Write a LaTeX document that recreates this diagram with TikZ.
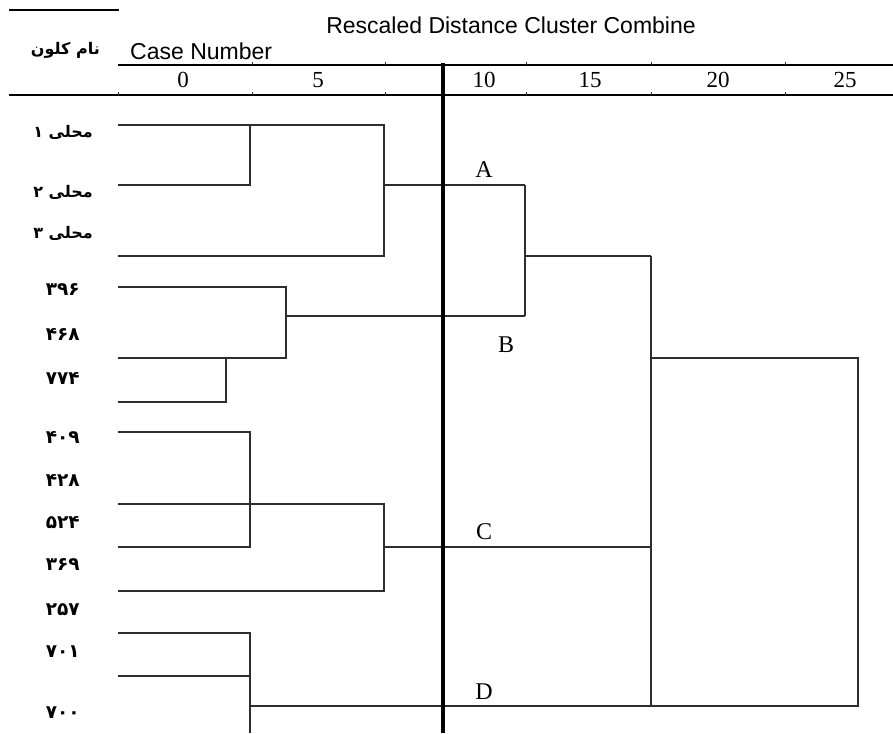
\documentclass[tikz,border=0pt]{standalone}
\usepackage{fontspec}
\setmainfont{Liberation Serif}
\newfontfamily\headfont{Liberation Sans}
\newfontfamily\arabicfont[Script=Arabic]{DejaVu Sans}
\TeXXeTstate=1
\begin{document}
\begin{tikzpicture}[x=1pt,y=-1pt,
  branch/.style={draw=black!82,line width=1.4pt},
  rulebar/.style={draw=black,line width=1.8pt},
  cutline/.style={draw=black,line width=4pt},
  tickmark/.style={draw=black!80,line width=0.9pt},
  rowlabel/.style={anchor=east,inner sep=0pt,font=\arabicfont\bfseries\fontsize{16}{16}\selectfont},
  numlabel/.style={anchor=east,inner sep=0pt,font=\arabicfont\bfseries\fontsize{18.5}{18.5}\selectfont},
  scalenum/.style={inner sep=0pt,font=\fontsize{23}{23}\selectfont},
  grouplabel/.style={inner sep=0pt,font=\fontsize{24}{24}\selectfont},
  headtext/.style={inner sep=0pt,font=\headfont\fontsize{23}{23}\selectfont}]
\useasboundingbox (0,0) rectangle (893,733);

% header rules and titles
\draw[rulebar] (9,10) -- (119,10);
\draw[rulebar] (118,65) -- (893,65);
\draw[rulebar] (9,95) -- (893,95);
\foreach \tx in {252,385,526,651,785} \draw[tickmark] (\tx,65) -- (\tx,62);
\foreach \tx in {118,252,385,526,651,785} \draw[tickmark] (\tx,95) -- (\tx,92);
\node[headtext] (title) at (511,25) {Rescaled Distance Cluster Combine};
\node[headtext,anchor=west] (casenum) at (130,51) {Case Number};
\node[rowlabel] (clone) at (100,50) {\beginR نام کلون\endR};

% distance scale
\node[scalenum] (s0) at (183,80) {0};
\node[scalenum] (s5) at (318,80) {5};
\node[scalenum] (s10) at (484,80) {10};
\node[scalenum] (s15) at (590,80) {15};
\node[scalenum] (s20) at (718,80) {20};
\node[scalenum] (s25) at (845,80) {25};

% case labels
\node[rowlabel] (r1) at (93,132) {\beginR محلی ۱\endR};
\node[rowlabel] (r2) at (93,192) {\beginR محلی ۲\endR};
\node[rowlabel] (r3) at (93,233) {\beginR محلی ۳\endR};
\node[numlabel] (r4) at (80,290) {۳۹۶};
\node[numlabel] (r5) at (80,334) {۴۶۸};
\node[numlabel] (r6) at (80,378) {۷۷۴};
\node[numlabel] (r7) at (80,437) {۴۰۹};
\node[numlabel] (r8) at (80,480) {۴۲۸};
\node[numlabel] (r9) at (80,523) {۵۲۴};
\node[numlabel] (r10) at (80,565) {۳۶۹};
\node[numlabel] (r11) at (80,610) {۲۵۷};
\node[numlabel] (r12) at (80,652) {۷۰۱};
\node[numlabel] (r13) at (80,713) {۷۰۰};

% leaf ends
\coordinate (l1) at (118,125);
\coordinate (l2) at (118,185);
\coordinate (l3) at (118,256);
\coordinate (l4) at (118,287);
\coordinate (l5) at (118,358);
\coordinate (l6) at (118,402);
\coordinate (l7) at (118,432);
\coordinate (l8) at (118,504);
\coordinate (l9) at (118,547);
\coordinate (l10) at (118,591);
\coordinate (l11) at (118,633);
\coordinate (l12) at (118,676);

% merge points
\coordinate (m12) at (250,125);
\coordinate (mA) at (384,185);
\coordinate (m45) at (286,316);
\coordinate (m6) at (226,358);
\coordinate (mAB) at (525,185);
\coordinate (mABr) at (525,316);
\coordinate (mTop) at (651,256);
\coordinate (mC1) at (250,432);
\coordinate (mC2) at (384,504);
\coordinate (mC) at (384,547);
\coordinate (mD1) at (250,633);
\coordinate (mDbot) at (250,733);
\coordinate (mD) at (250,706);
\coordinate (mAll) at (858,358);
\coordinate (mLow) at (651,706);

% cluster A
\draw[branch] (l1) -- (384,125) |- (l3);
\draw[branch] (l2) -| (m12);
\draw[branch] (mA) -- (mAB);
% cluster B
\draw[branch] (l4) -- (286,287) |- (l5);
\draw[branch] (l6) -| (m6);
\draw[branch] (m45) -- (mABr);
\draw[branch] (mAB) -- (mABr);
\draw[branch] (525,256) -- (mTop);
% cluster C
\draw[branch] (l7) -- (mC1) |- (l9);
\draw[branch] (l8) -- (mC2) |- (l10);
\draw[branch] (mC) -- (651,547);
% cluster D
\draw[branch] (l11) -| (mDbot);
\draw[branch] (l12) -- (250,676);
\draw[branch] (mD) -- (858,706) -- (mAll) -- (651,358);
\draw[branch] (mTop) -- (mLow);

% cut level
\draw[cutline] (443,63) -- (443,733);

% group labels
\node[grouplabel] (gA) at (484,170) {A};
\node[grouplabel] (gB) at (506,345) {B};
\node[grouplabel] (gC) at (484,532) {C};
\node[grouplabel] (gD) at (484,692) {D};
\end{tikzpicture}
\end{document}
